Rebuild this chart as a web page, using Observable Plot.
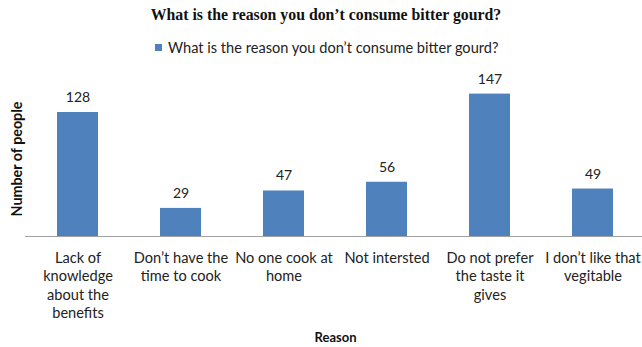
<!DOCTYPE html>
<html>
<head>
<meta charset="utf-8">
<script src="https://cdn.jsdelivr.net/npm/d3@7"></script>
<script src="https://cdn.jsdelivr.net/npm/@observablehq/plot@0.6"></script>
<style>
  html, body { margin: 0; padding: 0; background: #fff; width: 642px; height: 347px; overflow: hidden; }
  #wrap { position: relative; width: 642px; height: 347px; overflow: hidden; }
  #title { position: absolute; left: 0; top: 5px; width: 652px; text-align: center;
    font-family: "Liberation Serif", "Times New Roman", serif; font-weight: bold; font-size: 15.8px; color: #111; line-height: 20px; }
  #legend { position: absolute; left: 155px; top: 38px; height: 18px; display: flex; align-items: center;
    font-family: Lato, "Liberation Sans", sans-serif; font-size: 14.6px; color: #222; }
  #legend .sw { width: 7px; height: 7px; background: #4F81BD; margin-right: 6px; }
  #chart { position: absolute; left: 0; top: 62px; }
  #chart svg { max-width: none; }
</style>
</head>
<body>
<div id="wrap">
  <div id="title"></div>
  <div id="legend"><span class="sw"></span><span id="legtext"></span></div>
  <div id="chart"></div>
</div>
<script>
const chartTitle = "What is the reason you don\u2019t consume bitter gourd?";
const seriesName = "What is the reason you don\u2019t consume bitter gourd?";
const categories = [
  "Lack of knowledge about the benefits",
  "Don\u2019t have the time to cook",
  "No one cook at home",
  "Not intersted",
  "Do not prefer the taste it gives",
  "I don\u2019t like that vegitable"
];
const tickLabels = [
  "Lack of\nknowledge\nabout the\nbenefits",
  "Don\u2019t have the\ntime to cook",
  "No one cook at\nhome",
  "Not intersted",
  "Do not prefer\nthe taste it\ngives",
  "I don\u2019t like that\nvegitable"
];
const values = [128, 29, 47, 56, 147, 49];
const xLabel = "Reason";
const yLabel = "Number of people";

document.getElementById("title").textContent = chartTitle;
document.getElementById("legtext").textContent = seriesName;

const data = categories.map((c, i) => ({category: c, value: values[i]}));
const labelOf = new Map(categories.map((c, i) => [c, tickLabels[i]]));

const plot = Plot.plot({
  width: 645,
  height: 285,
  marginLeft: 25,
  marginRight: 0,
  marginTop: 19,
  marginBottom: 111,
  style: {fontFamily: "Lato, 'Liberation Sans', sans-serif", fontSize: "14px", color: "#222", background: "transparent", maxWidth: "none"},
  x: {domain: categories, paddingInner: 0.6, paddingOuter: 0.3, label: null},
  y: {domain: [0, 160], axis: null},
  marks: [
    Plot.barY(data, {x: "category", y: "value", fill: "#4F81BD"}),
    Plot.ruleY([0], {stroke: "#a0a0a0", strokeWidth: 1.2}),
    Plot.text(data, {x: "category", y: "value", text: d => String(d.value), dy: -15, fill: "#222", fontSize: 14}),
    Plot.axisX({tickSize: 0, tickPadding: 13, tickFormat: d => labelOf.get(d), lineAnchor: "top", lineHeight: 1.27, fontSize: 14.6, fill: "#222", label: null}),
    Plot.text([xLabel], {frameAnchor: "bottom", dy: 105, fontWeight: "bold", fontSize: 13, fill: "#111"}),
    Plot.text([yLabel], {frameAnchor: "left", textAnchor: "middle", dx: -8, rotate: -90, fontWeight: "bold", fontSize: 14.3, fill: "#111"})
  ]
});
document.getElementById("chart").appendChild(plot);
</script>
</body>
</html>
